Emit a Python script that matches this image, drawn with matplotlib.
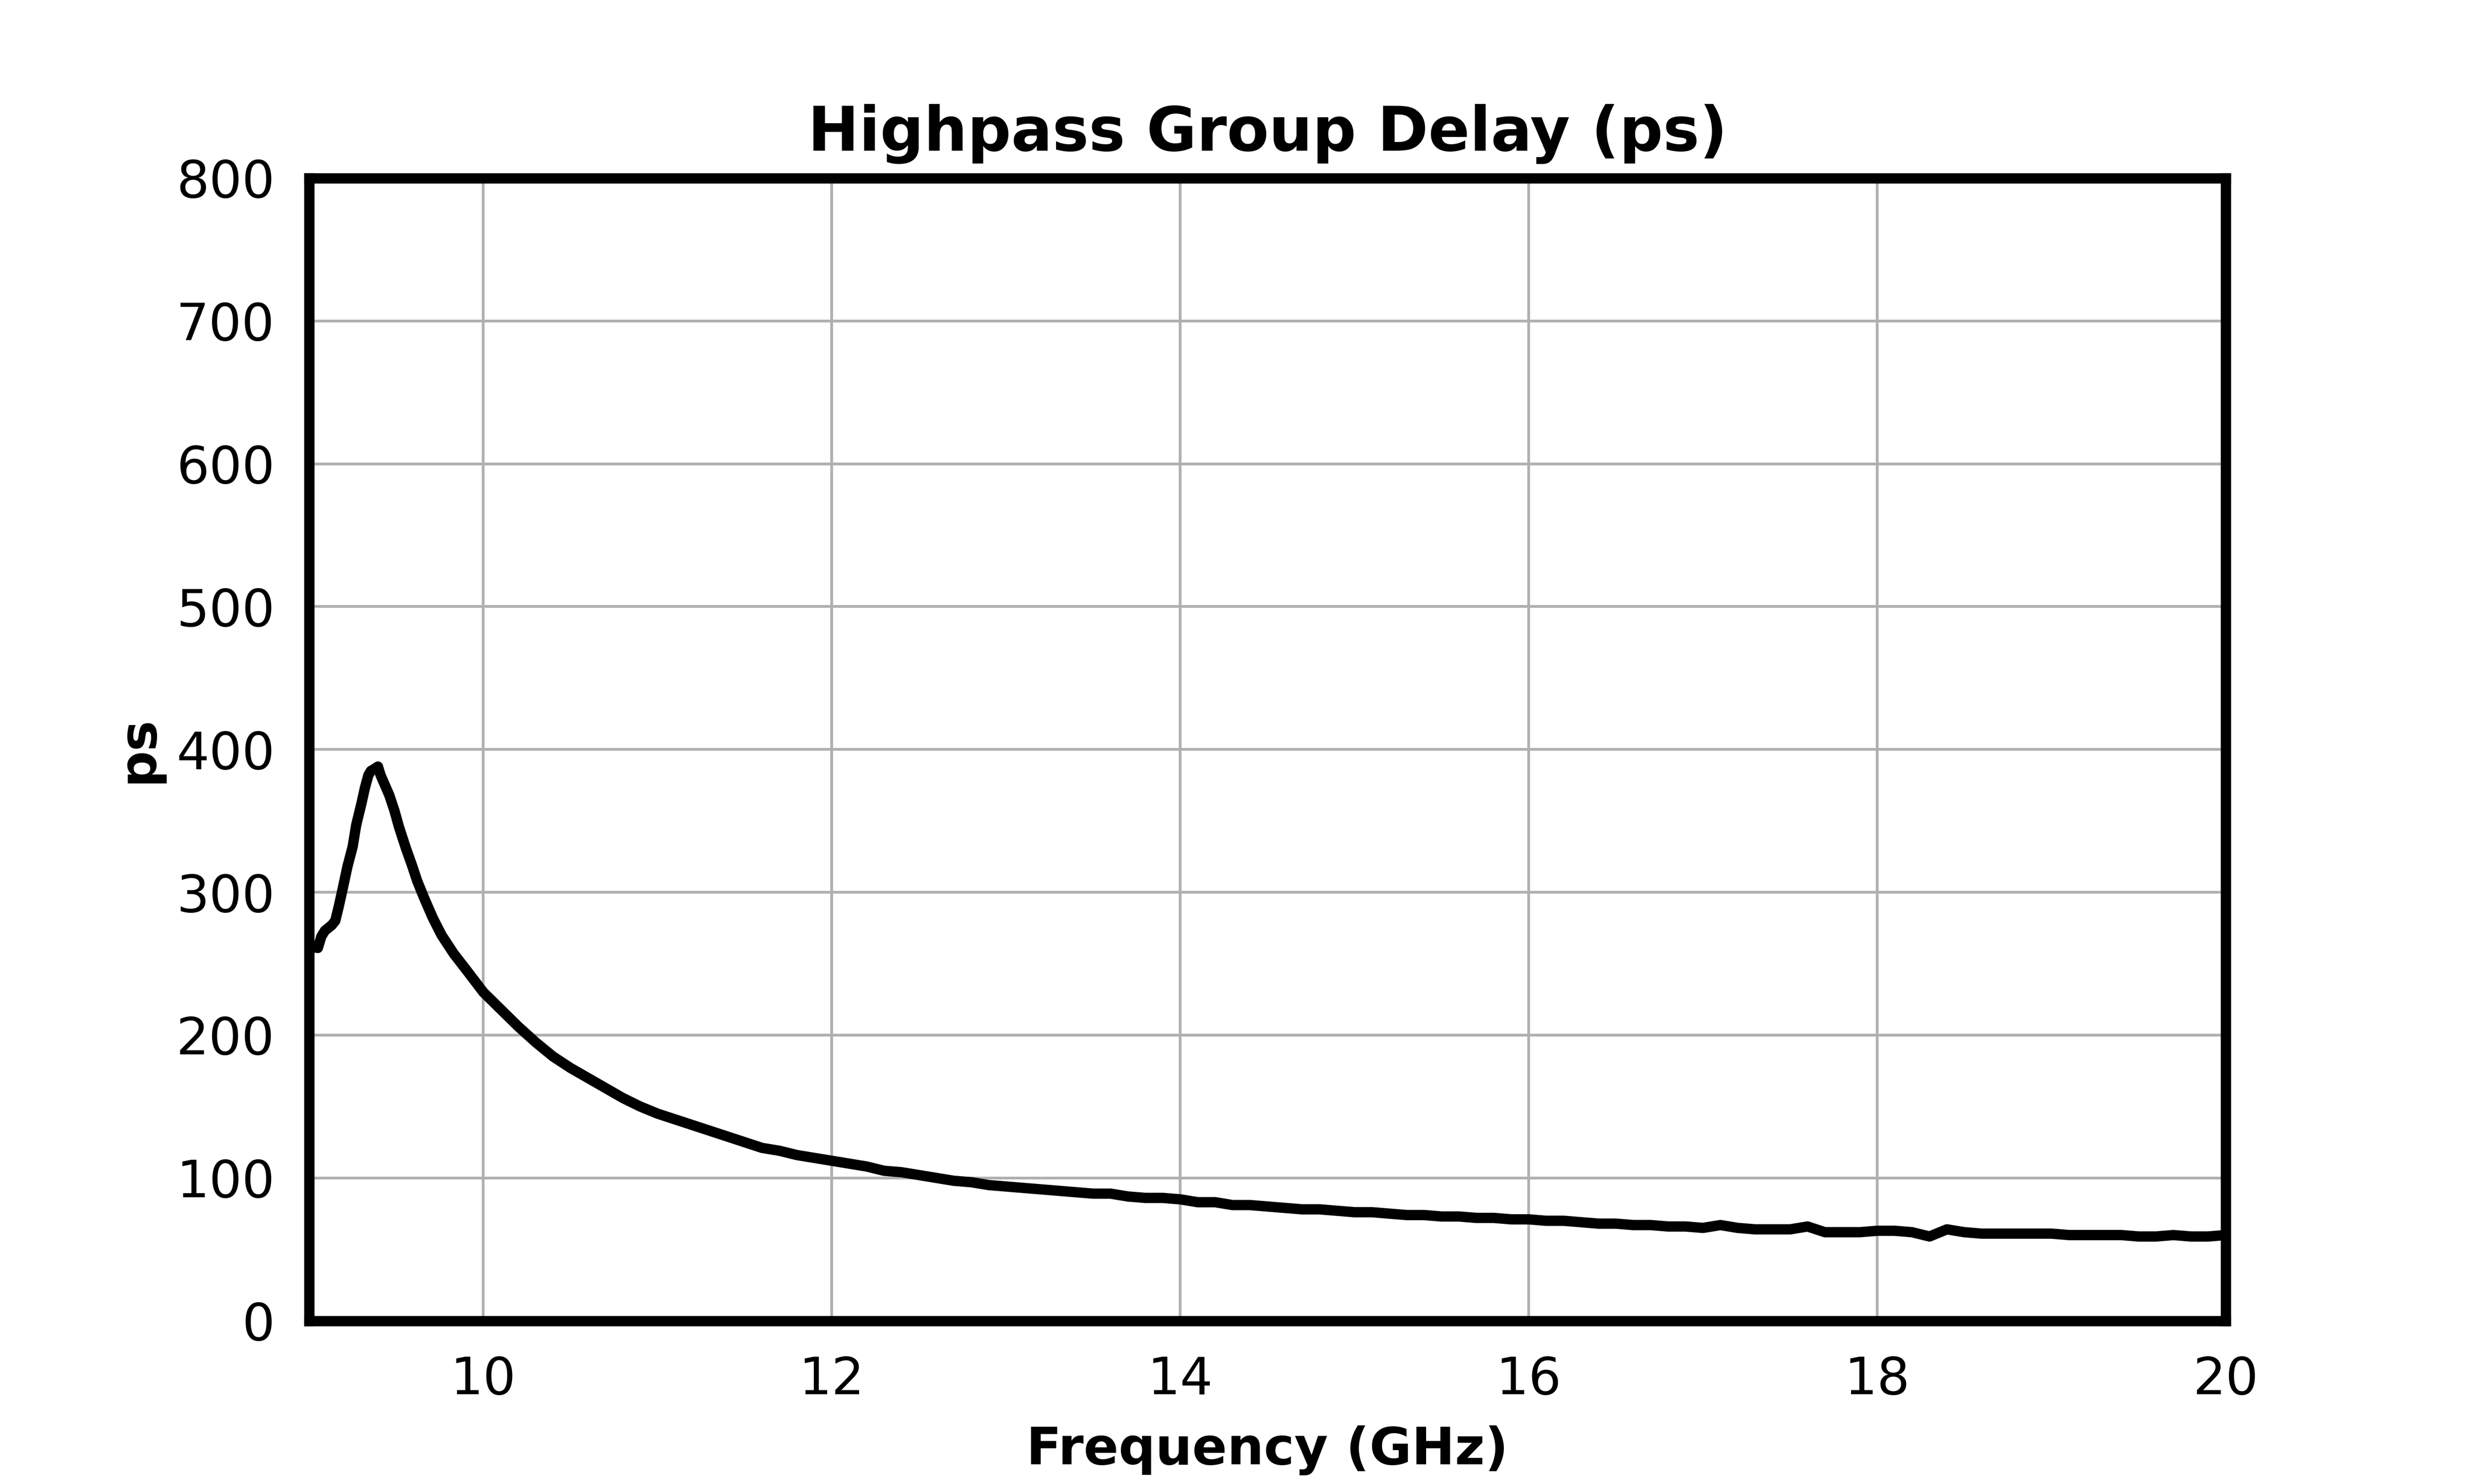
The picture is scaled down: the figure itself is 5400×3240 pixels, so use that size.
import matplotlib
matplotlib.use("Agg")
import matplotlib.pyplot as plt

# values (GHz, ps)
freq_peak = [9.00, 9.02, 9.05, 9.07, 9.09, 9.13, 9.15, 9.17, 9.19, 9.22,
             9.25, 9.27, 9.30, 9.32, 9.34, 9.355, 9.37, 9.395, 9.41, 9.435,
             9.46, 9.49, 9.515, 9.555, 9.59, 9.62, 9.66, 9.71, 9.76, 9.83,
             9.90, 10.00, 10.10, 10.20, 10.30, 10.40, 10.50, 10.60, 10.70,
             10.80]
delay_peak = [258, 262, 261, 269, 273, 277, 280, 290, 301, 318,
              332, 347, 362, 373, 382, 385, 386, 388, 382, 375,
              368, 357, 346, 331, 319, 308, 296, 282, 270, 257,
              246, 230, 218, 206, 195, 185, 177, 170, 163,
              156]

freq_tail = [10.9, 11.0, 11.1, 11.2, 11.3, 11.4, 11.5, 11.6, 11.7, 11.8, 11.9,
             12.0, 12.1, 12.2, 12.3, 12.4, 12.5, 12.6, 12.7, 12.8, 12.9,
             13.0, 13.1, 13.2, 13.3, 13.4, 13.5, 13.6, 13.7, 13.8, 13.9,
             14.0, 14.1, 14.2, 14.3, 14.4, 14.5, 14.6, 14.7, 14.8, 14.9,
             15.0, 15.1, 15.2, 15.3, 15.4, 15.5, 15.6, 15.7, 15.8, 15.9,
             16.0, 16.1, 16.2, 16.3, 16.4, 16.5, 16.6, 16.7, 16.8, 16.9,
             17.0, 17.1, 17.2, 17.3, 17.4, 17.5, 17.6, 17.7, 17.8, 17.9,
             18.0, 18.1, 18.2, 18.3, 18.4, 18.5, 18.6, 18.7, 18.8, 18.9,
             19.0, 19.1, 19.2, 19.3, 19.4, 19.5, 19.6, 19.7, 19.8, 19.9, 20.0]
delay_tail = [150, 145, 141, 137, 133, 129, 125, 121, 119, 116, 114,
              112, 110, 108, 105, 104, 102, 100, 98, 97, 95,
              94, 93, 92, 91, 90, 89, 89, 87, 86, 86,
              85, 83, 83, 81, 81, 80, 79, 78, 78, 77,
              76, 76, 75, 74, 74, 73, 73, 72, 72, 71,
              71, 70, 70, 69, 68, 68, 67, 67, 66, 66,
              65, 67, 65, 64, 64, 64, 66, 62, 62, 62,
              63, 63, 62, 59, 64, 62, 61, 61, 61, 61,
              61, 60, 60, 60, 60, 59, 59, 60, 59, 59, 60]

freq = freq_peak + freq_tail
delay = delay_peak + delay_tail

x_ticks = [10, 12, 14, 16, 18, 20]
y_ticks = [0, 100, 200, 300, 400, 500, 600, 700, 800]


def main():
    fig, ax = plt.subplots(figsize=(10, 6))
    fig.subplots_adjust(left=0.125, right=0.9, bottom=0.11, top=0.88)

    ax.plot(freq, delay, color="black", linewidth=3, solid_joinstyle="round",
            solid_capstyle="round", zorder=3)

    ax.set_xlim(9, 20)
    ax.set_ylim(0, 800)
    ax.set_xticks(x_ticks)
    ax.set_yticks(y_ticks)
    ax.tick_params(axis="both", length=0, pad=10, labelsize=15)
    ax.grid(True, color="#b0b0b0", linewidth=0.8)
    ax.set_axisbelow(True)
    for sp in ax.spines.values():
        sp.set_linewidth(3)
        sp.set_color("black")

    ax.set_title("Highpass Group Delay (ps)", fontsize=17.8, fontweight="bold", pad=8)
    ax.set_xlabel("Frequency (GHz)", fontsize=15, fontweight="bold", labelpad=6)
    ax.set_ylabel("ps", fontsize=15, fontweight="bold", labelpad=4)

    fig.savefig("out.png", dpi=540)


if __name__ == "__main__":
    main()
